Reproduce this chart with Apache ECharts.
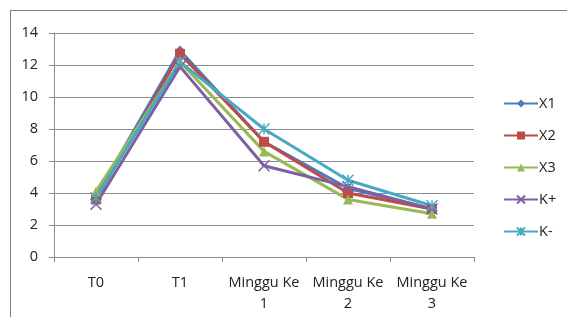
<!DOCTYPE html>
<html>
<head>
<meta charset="utf-8">
<script src="https://cdn.jsdelivr.net/npm/echarts@6/dist/echarts.min.js"></script>
<style>
  html, body { margin: 0; padding: 0; background: #fff; }
  #frame { position: absolute; left: 10px; top: 10px; width: 570px; height: 320px; border: 1px solid #7f7f7f; box-sizing: border-box; }
  #chart { position: absolute; left: 0; top: 0; width: 567px; height: 317px; }
</style>
</head>
<body>
<div id="frame"></div>
<div id="chart"></div>
<script>
const categories = ['T0', 'T1', 'Minggu Ke\n1', 'Minggu Ke\n2', 'Minggu Ke\n3']
const seriesNames = ['X1', 'X2', 'X3', 'K+', 'K-']
const x1 = [3.8, 12.9, 7.2, 4.3, 3.0]
const x2 = [3.6, 12.7, 7.2, 4.0, 3.0]
const x3 = [4.1, 12.2, 6.6, 3.6, 2.7]
const kPlus = [3.3, 11.9, 5.7, 4.4, 3.0]
const kMinus = [3.7, 12.2, 8.0, 4.8, 3.2]

const colors = ['#4a7ebb', '#be4b48', '#98b954', '#7d60a0', '#46aac5']
const crossPath = 'path://M0,0L10,10M10,0L0,10'
const starPath = 'path://M0,0L10,10M10,0L0,10M5,0L5,10'
const symbols = ['diamond', 'rect', 'triangle', crossPath, starPath]
const sizes = [10, 10, 10, 11, 11]

const chart = echarts.init(document.getElementById('chart'))

const data = [x1, x2, x3, kPlus, kMinus]

chart.setOption({
  animation: false,
  textStyle: { fontFamily: 'Open Sans, Liberation Sans, sans-serif' },
  grid: { left: 54, right: 93, top: 33, bottom: 60 },
  legend: {
    orient: 'vertical',
    left: 498,
    top: 91,
    itemGap: 17,
    itemWidth: 34,
    itemHeight: 10,
    textStyle: { fontSize: 14.5, color: '#222', padding: [0, 0, 0, -4] },
    data: seriesNames
  },
  xAxis: {
    type: 'category',
    data: categories,
    axisLine: { lineStyle: { color: '#8c8c8c' } },
    axisTick: { show: true, lineStyle: { color: '#8c8c8c' }, length: 5 },
    axisLabel: { color: '#222', fontSize: 14.5, margin: 15, lineHeight: 21, interval: 0 }
  },
  yAxis: {
    type: 'value',
    min: 0,
    max: 14,
    interval: 2,
    axisLine: { show: true, lineStyle: { color: '#8c8c8c' } },
    axisTick: { show: true, inside: false, length: 5, lineStyle: { color: '#8c8c8c' } },
    axisLabel: { color: '#222', fontSize: 14.5, margin: 16 },
    splitLine: { lineStyle: { color: '#8c8c8c' } }
  },
  series: seriesNames.map((name, i) => ({
    name: name,
    type: 'line',
    data: data[i],
    symbol: symbols[i],
    symbolSize: sizes[i],
    showAllSymbol: true,
    itemStyle: { color: colors[i], borderColor: colors[i], borderWidth: i >= 3 ? 1.5 : 0 },
    lineStyle: { color: colors[i], width: 3 }
  }))
})
</script>
</body>
</html>
